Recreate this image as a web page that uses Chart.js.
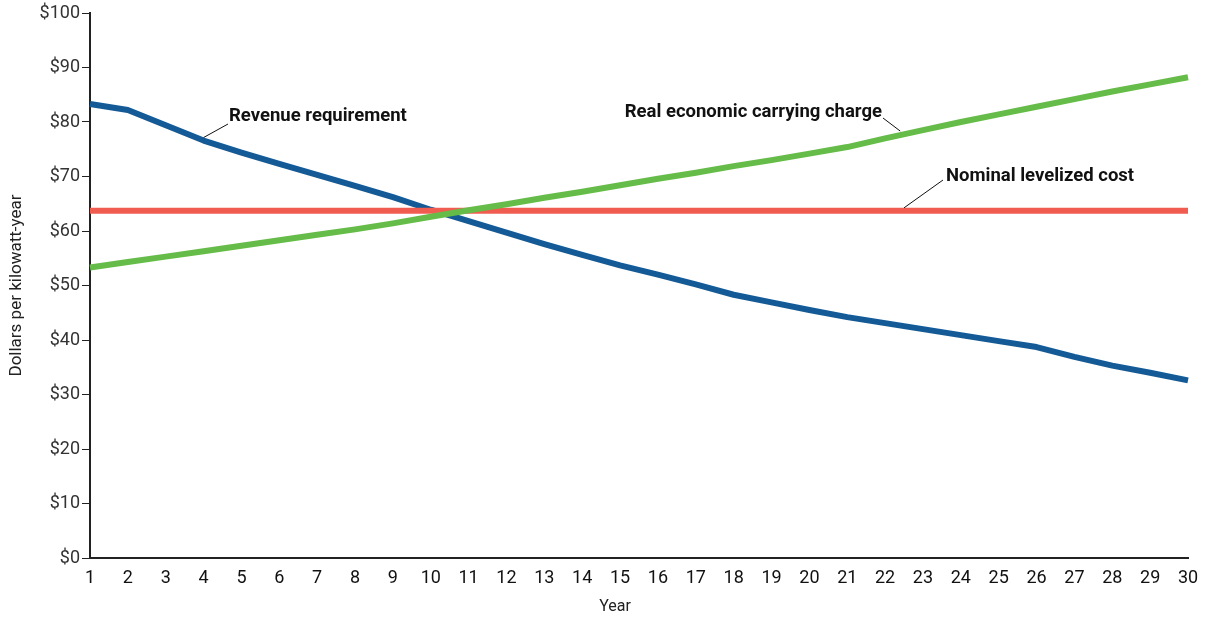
<!DOCTYPE html>
<html>
<head>
<meta charset="utf-8">
<script src="https://cdn.jsdelivr.net/npm/chart.js@4"></script>
<style>
  body { margin: 0; background: #fff; }
  #wrap { width: 1209px; height: 621px; }
</style>
</head>
<body>
<div id="wrap"><canvas id="chartCost"></canvas></div>
<script>
const years = [1, 2, 3, 4, 5, 6, 7, 8, 9, 10, 11, 12, 13, 14, 15,
               16, 17, 18, 19, 20, 21, 22, 23, 24, 25, 26, 27, 28, 29, 30];
const revenueRequirement = [83.3, 82.2, 79.4, 76.6, 74.4, 72.3, 70.3, 68.3, 66.2, 63.9,
                            61.8, 59.7, 57.6, 55.6, 53.7, 52.0, 50.2, 48.3, 46.9, 45.5,
                            44.2, 43.1, 42.0, 40.9, 39.8, 38.7, 36.9, 35.3, 34.0, 32.6];
const realCarryingCharge = [53.3, 54.3, 55.3, 56.3, 57.3, 58.3, 59.3, 60.3, 61.4, 62.6,
                            63.8, 64.9, 66.1, 67.2, 68.4, 69.6, 70.7, 71.9, 73.0, 74.2,
                            75.4, 77.0, 78.5, 80.0, 81.4, 82.8, 84.2, 85.6, 86.9, 88.2];
const nominalLevelized = years.map(() => 63.7);
const yTicks = [0, 10, 20, 30, 40, 50, 60, 70, 80, 90, 100];

const fontName = 'Roboto, "Liberation Sans", sans-serif';

// labels with leader lines next to each curve, plus the x title (sits left of centre)
const curveLabels = {
    id: 'curveLabels',
    afterDatasetsDraw(chart) {
        const ctx = chart.ctx;
        const x = chart.scales.x, y = chart.scales.y;
        const items = [
            { text: 'Revenue requirement', px: x.getPixelForValue(3), py: y.getPixelForValue(revenueRequirement[3]) - 3,
              ex: 228, ey: 124, tx: 229, ty: 116, align: 'left' },
            { text: 'Real economic carrying charge', px: x.getPixelForValue(21.4), py: y.getPixelForValue(77.6) - 4,
              ex: 883, ey: 118, tx: 882, ty: 112, align: 'right' },
            { text: 'Nominal levelized cost', px: x.getPixelForValue(21.5), py: y.getPixelForValue(63.7) - 3,
              ex: 943, ey: 180, tx: 946, ty: 176, align: 'left' }
        ];
        ctx.save();
        ctx.strokeStyle = '#111';
        ctx.lineWidth = 1;
        ctx.fillStyle = '#111';
        ctx.font = 'bold 18.5px ' + fontName;
        ctx.textBaseline = 'middle';
        items.forEach(it => {
            ctx.beginPath();
            ctx.moveTo(it.px, it.py);
            ctx.lineTo(it.ex, it.ey);
            ctx.stroke();
            ctx.textAlign = it.align;
            ctx.fillText(it.text, it.tx, it.ty);
        });
        ctx.font = '16px ' + fontName;
        ctx.fillStyle = '#222';
        ctx.textAlign = 'center';
        ctx.fillText('Year', 615, 607);
        ctx.restore();
    }
};

const ctxCost = document.getElementById('chartCost');
const chartCost = new Chart(ctxCost, {
    type: 'line',
    data: {
        labels: years,
        datasets: [{
            label: 'Real economic carrying charge',
            data: realCarryingCharge,
            borderColor: 'rgb(102, 188, 72)',
            borderWidth: 6
        }, {
            label: 'Nominal levelized cost',
            data: nominalLevelized,
            borderColor: 'rgb(240, 92, 80)',
            borderWidth: 6
        }, {
            label: 'Revenue requirement',
            data: revenueRequirement,
            borderColor: 'rgb(20, 90, 150)',
            borderWidth: 6
        }]
    },
    options: {
        responsive: true,
        maintainAspectRatio: false,
        animation: false,
        layout: { padding: { top: 13, right: 21, left: 0, bottom: 0 } },
        elements: {
            point: { radius: 0 },
            line: { tension: 0, borderCapStyle: 'butt', borderJoinStyle: 'round' }
        },
        plugins: {
            legend: { display: false },
            tooltip: { enabled: false }
        },
        scales: {
            x: {
                offset: false,
                grid: { display: false },
                border: { display: true, color: '#222', width: 2 },
                ticks: {
                    color: '#111',
                    font: { family: fontName, size: 18 },
                    maxRotation: 0,
                    autoSkip: false,
                    padding: 2
                },
                afterFit: (s) => { s.height = 63; }
            },
            y: {
                min: 0,
                max: 100,
                afterBuildTicks: (s) => { s.ticks = yTicks.map(v => ({ value: v })); },
                grid: { drawOnChartArea: false, drawTicks: true, tickLength: 8, color: '#222' },
                border: { display: true, color: '#222', width: 2 },
                ticks: {
                    color: '#333',
                    font: { family: fontName, size: 18 },
                    padding: 2,
                    callback: (v) => '$' + v
                },
                title: {
                    display: true,
                    text: 'Dollars per kilowatt-year',
                    color: '#222',
                    font: { family: fontName, size: 17 },
                    padding: { top: 7, bottom: 4 }
                },
                afterFit: (s) => { s.width = 90; }
            }
        }
    },
    plugins: [curveLabels]
});
</script>
</body>
</html>
